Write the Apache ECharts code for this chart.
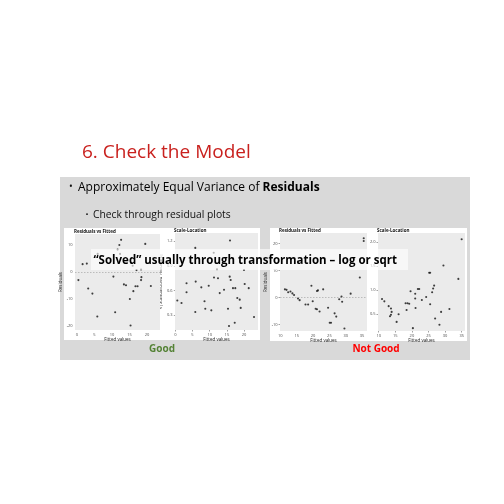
<!DOCTYPE html>
<html><head><meta charset="utf-8">
<script src="https://cdn.jsdelivr.net/npm/echarts@6/dist/echarts.min.js"></script>
<style>html,body{margin:0;padding:0;background:#fff}#c{width:504px;height:504px}</style>
</head><body><div id="c"></div>
<script>
// ---- texts ----
const slideTitle = '6. Check the Model';
const bullet1Plain = 'Approximately Equal Variance of ';
const bullet1Bold = 'Residuals';
const bullet2 = 'Check through residual plots';
const overlayText = '\u201CSolved\u201D usually through transformation \u2013 log or sqrt';
const verdicts = ['Good', 'Not Good'];
const plotTitles = ['Residuals vs Fitted', 'Scale-Location', 'Residuals vs Fitted', 'Scale-Location'];
const xAxisNames = ['Fitted values', 'Fitted values', 'Fitted values', 'Fitted values'];
const yAxisNames = ['Residuals', '\u221A|Standardized residuals|', 'Residuals', '\u221A|Standardized residuals|'];

// ---- tick labels ----
const goodFittedTicks = [0, 5, 10, 15, 20];
const goodResidTicks = [-20, -10, 0, 10];
const goodScaleTicks = [0.3, 0.6, 0.9, 1.2];
const badFittedTicks = [10, 15, 20, 25, 30, 35];
const badResidTicks = [-10, 0, 10, 20];
const badScaleTicks = [0.5, 1.0, 1.5, 2.0];

// ---- data: [fitted, value] ----
const goodResid = [[12.6,11.9],[12.1,10.0],[19.5,10.4],[11.6,8.3],[12.3,6.7],[2.8,3.1],[1.6,2.9],[5.9,6.7],[17.0,0.7],[18.3,0.9],[0.4,-3.0],[10.4,-1.7],[18.4,-1.9],[18.3,-3.0],[13.4,-4.6],[14.0,-4.9],[16.7,-5.3],[17.3,-5.3],[21.1,-5.2],[3.2,-6.1],[4.4,-8.0],[16.1,-7.1],[15.1,-10.0],[10.9,-14.9],[5.8,-16.5],[15.3,-19.8],[15.9,2.3]];
const goodScale = [[15.9,1.21],[5.81,1.12],[11.16,1.06],[12.12,0.86],[19.97,0.85],[3.26,0.69],[5.93,0.71],[11.25,0.76],[12.41,0.75],[15.81,0.77],[16.1,0.73],[7.56,0.64],[9.71,0.66],[14.16,0.61],[16.77,0.63],[17.44,0.63],[20.17,0.68],[21.34,0.63],[3.26,0.58],[12.91,0.57],[0.58,0.48],[1.8,0.45],[8.49,0.47],[18.02,0.51],[18.72,0.49],[10.47,0.36],[8.72,0.38],[5.81,0.34],[15.32,0.38],[19.01,0.39],[22.88,0.28],[15.61,0.17],[17.27,0.21]];
const badResid = [[35.5,22.0],[35.5,21.0],[34.3,7.5],[11.4,3.1],[11.9,2.9],[12.4,2.0],[13.1,2.3],[13.7,1.6],[14.2,1.0],[15.4,-0.3],[15.9,-0.9],[17.7,-2.5],[18.5,-2.5],[19.5,4.4],[21.2,2.5],[21.5,2.7],[23.1,3.1],[19.9,-1.3],[20.8,-4.1],[21.2,-4.3],[22.0,-5.1],[24.6,-3.7],[26.6,-5.8],[27.1,-7.0],[28.7,0.4],[28.9,-1.5],[28.0,-0.6],[31.5,1.5],[25.1,-9.3],[25.5,-9.3],[29.6,-11.4]];
const badScale = [[35.0,2.06],[29.5,1.51],[25.2,1.36],[25.5,1.36],[34.0,1.23],[21.8,1.02],[22.2,1.02],[19.6,0.97],[21.0,0.92],[26.4,1.03],[26.7,1.09],[26.1,0.95],[24.3,0.85],[23.0,0.79],[21.0,0.82],[11.0,0.81],[11.7,0.76],[18.1,0.72],[18.7,0.72],[19.2,0.71],[13.0,0.66],[13.7,0.61],[13.9,0.54],[13.7,0.48],[13.4,0.45],[16.0,0.49],[18.4,0.58],[21.1,0.62],[25.5,0.70],[28.8,0.54],[31.3,0.60],[27.0,0.40],[28.3,0.27],[15.4,0.33],[20.3,0.20]];

// ---- layout / style ----
const grids = [
  {left: 75, top: 234, width: 85, height: 96},
  {left: 175, top: 233, width: 83, height: 97},
  {left: 280, top: 233, width: 87, height: 98},
  {left: 378, top: 233, width: 87, height: 98}
];
const xRanges = [[-0.57, 23.71], [-0.09, 24.04], [9.9, 36.5], [9.79, 36.0]];
const yRanges = [[-21.48, 14.07], [0.121, 1.301], [-12.33, 23.96], [0.14, 2.19]];
const ySplit = [5, 4, 5, 5];
const yDecimals = [0, 1, 0, 1];
const xTicks = [goodFittedTicks, goodFittedTicks, badFittedTicks, badFittedTicks];
const yTicks = [goodResidTicks, goodScaleTicks, badResidTicks, badScaleTicks];
const seriesData = [goodResid, goodScale, badResid, badScale];
const hasZeroLine = [true, false, true, false];

const FONT = '"Open Sans", "Noto Sans", sans-serif';
const tickLabel = {fontSize: 4, color: '#4d4d4d', fontFamily: FONT};

function axisCommon(i, isX) {
  const r = isX ? xRanges[i] : yRanges[i];
  const dec = isX ? 0 : yDecimals[i];
  return {
    type: 'value', gridIndex: i, min: r[0], max: r[1],
    splitNumber: isX ? 5 : ySplit[i],
    name: isX ? xAxisNames[i] : yAxisNames[i],
    nameLocation: 'middle', nameGap: isX ? 7 : 8,
    nameRotate: isX ? 0 : 90,
    nameTextStyle: {fontSize: 4.5, color: '#222', fontFamily: FONT},
    axisLine: {show: false},
    axisTick: {show: true, length: 1.5, lineStyle: {color: '#444', width: 0.5}, customValues: isX ? xTicks[i] : yTicks[i]},
    axisLabel: Object.assign({margin: 2.5, customValues: isX ? xTicks[i] : yTicks[i],
      formatter: v => Number(v).toFixed(dec)}, tickLabel),
    splitLine: {show: true, lineStyle: {color: '#ffffff', width: 0.7}},
    minorTick: {show: false, splitNumber: 2},
    minorSplitLine: {show: true, lineStyle: {color: '#f6f6f6', width: 0.4}}
  };
}

const option = {
  animation: false,
  backgroundColor: '#ffffff',
  title: plotTitles.map((t, i) => ({
    text: t, left: grids[i].left - 1, top: grids[i].top - 5, padding: 0,
    textStyle: {fontSize: 4.5, fontWeight: 'bold', color: '#111', fontFamily: FONT}
  })),
  grid: grids.map(g => Object.assign({show: true, backgroundColor: '#ebebeb', borderWidth: 0, containLabel: false, z: 1}, g)),
  xAxis: grids.map((g, i) => axisCommon(i, true)),
  yAxis: grids.map((g, i) => axisCommon(i, false)),
  series: seriesData.map((d, i) => ({
    type: 'scatter', xAxisIndex: i, yAxisIndex: i, data: d,
    symbolSize: 2.1, itemStyle: {color: '#111'}, silent: true, z: 3,
    markLine: hasZeroLine[i] ? {
      silent: true, symbol: 'none', label: {show: false},
      lineStyle: {color: '#9a9a9a', type: [1.5, 1.5], width: 0.6},
      data: [{yAxis: 0}]
    } : undefined
  })),
  graphic: [
    {type: 'rect', z: -10, shape: {x: 60, y: 177, width: 410, height: 183}, style: {fill: '#d9d9d9'}},
    {type: 'rect', z: -9, shape: {x: 64, y: 228, width: 196, height: 112}, style: {fill: '#ffffff'}},
    {type: 'rect', z: -9, shape: {x: 270, y: 228, width: 197, height: 113}, style: {fill: '#ffffff'}},
    {type: 'text', z: 10, x: 82, y: 143, style: {text: slideTitle, fill: '#c9211e', font: '19px ' + FONT, textVerticalAlign: 'top'}},
    {type: 'text', z: 10, x: 69, y: 187.5, style: {text: '\u2022', fill: '#111', font: '10px ' + FONT, textVerticalAlign: 'middle'}},
    {type: 'text', z: 10, x: 78, y: 182, style: {
      text: '{n|' + bullet1Plain + '}{b|' + bullet1Bold + '}', textVerticalAlign: 'top',
      rich: {n: {fontSize: 12, fontFamily: FONT, color: '#111'}, b: {fontSize: 12, fontFamily: FONT, fontWeight: 'bold', color: '#111'}}
    }},
    {type: 'text', z: 10, x: 85.5, y: 215, style: {text: '\u2022', fill: '#111', font: '8px ' + FONT, textVerticalAlign: 'middle'}},
    {type: 'text', z: 10, x: 93, y: 210, style: {text: bullet2, fill: '#111', font: '10.3px ' + FONT, textVerticalAlign: 'top'}},
    {type: 'text', z: 10, x: 162, y: 349, style: {text: verdicts[0], fill: '#548235', font: 'bold 10px ' + FONT, textAlign: 'center', textVerticalAlign: 'middle'}},
    {type: 'text', z: 10, x: 376, y: 349, style: {text: verdicts[1], fill: '#ff0000', font: 'bold 10px ' + FONT, textAlign: 'center', textVerticalAlign: 'middle'}},
    {type: 'rect', z: 100, shape: {x: 91, y: 249, width: 317, height: 21}, style: {fill: 'rgba(255,255,255,0.6)'}},
    {type: 'text', z: 101, x: 93.5, y: 260, scaleX: 0.884, style: {text: overlayText, fill: '#000', font: 'bold 13px ' + FONT, textVerticalAlign: 'middle'}}
  ]
};
const chart = echarts.init(document.getElementById('c'), null, {renderer: 'canvas'});
chart.setOption(option);
</script></body></html>
